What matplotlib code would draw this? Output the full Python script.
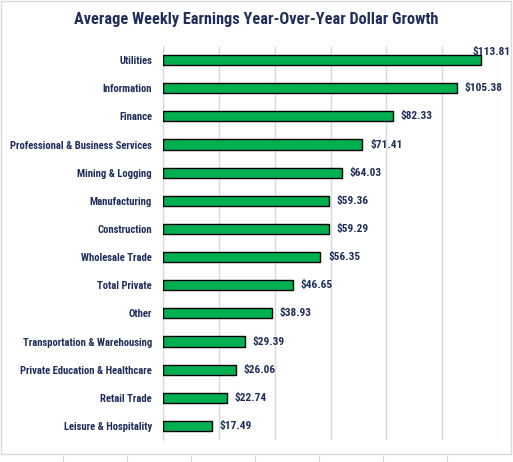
import matplotlib
matplotlib.use('Agg')
import matplotlib.pyplot as plt
from matplotlib.patches import Rectangle

plt.rcParams['font.family'] = ['Roboto Condensed', 'DejaVu Sans']

categories = ['Utilities', 'Information', 'Finance', 'Professional & Business Services',
              'Mining & Logging', 'Manufacturing', 'Construction', 'Wholesale Trade',
              'Total Private', 'Other', 'Transportation & Warehousing',
              'Private Education & Healthcare', 'Retail Trade', 'Leisure & Hospitality']
values = [113.81, 105.38, 82.33, 71.41, 64.03, 59.36, 59.29, 56.35,
          46.65, 38.93, 29.39, 26.06, 22.74, 17.49]

navy = '#1F2F5C'
green = '#00B050'

fig = plt.figure(figsize=(5.13, 4.62), dpi=100)
ax = fig.add_axes([0.318, 0.0476, 0.653, 0.8528])

y = range(len(categories))
ax.barh(y, values, height=0.36, color=green, edgecolor='black', linewidth=1.0, zorder=3)
ax.set_ylim(len(categories) - 0.5, -0.5)
ax.set_xlim(0, 120)
ax.set_xticks(range(0, 121, 20))
ax.set_xticklabels([])
ax.tick_params(axis='x', length=0)
ax.tick_params(axis='y', length=0, pad=8)
ax.set_yticks(list(y))
ax.set_yticklabels(categories, fontsize=7.7, fontweight='bold', color=navy)
ax.grid(axis='x', color='#D9D9D9', linewidth=1.0, zorder=0)
for s in ['top', 'right', 'bottom']:
    ax.spines[s].set_visible(False)
ax.spines['left'].set_color('#D9D9D9')

for i, v in enumerate(values):
    if i == 0:
        ax.annotate(f'${v:.2f}', (v, i), xytext=(-6, 6), textcoords='offset points',
                    ha='left', va='center', fontsize=8.2, fontweight='bold', color=navy)
    else:
        ax.annotate(f'${v:.2f}', (v, i), xytext=(5.5, 0), textcoords='offset points',
                    ha='left', va='center', fontsize=8.2, fontweight='bold', color=navy)

fig.text(0.499, 0.957, 'Average Weekly Earnings Year-Over-Year Dollar Growth',
         ha='center', va='center', fontsize=11.7, fontweight='bold', color=navy)

# chart border and worksheet cells below it
fig.add_artist(Rectangle((0.002, 0.017), 0.994, 0.981, transform=fig.transFigure,
                         fill=False, edgecolor='#D9D9D9', linewidth=1.0))
for xc in [63, 127, 191, 255, 319, 383, 447]:
    fig.add_artist(plt.Line2D([xc / 513, xc / 513], [0, 0.012], transform=fig.transFigure,
                              color='#D9D9D9', linewidth=0.8))

fig.savefig('out.png', dpi=100)
